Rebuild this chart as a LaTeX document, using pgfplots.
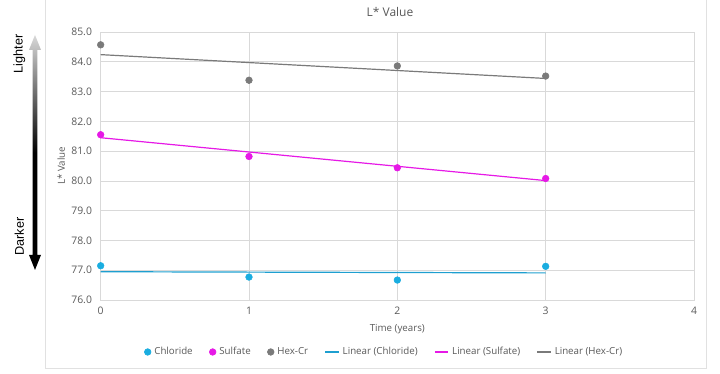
\documentclass[border=0pt]{standalone}
\usepackage{pgfplots}
\pgfplotsset{compat=1.18}
\usepackage{fontspec}
\setmainfont{Open Sans}
\newfontfamily\arial{Liberation Sans}
\definecolor{txt}{HTML}{595959}
\definecolor{cblue}{HTML}{1AADE0}
\definecolor{cblueline}{HTML}{1E9FD0}
\definecolor{cmag}{HTML}{E619E6}
\definecolor{cgray}{HTML}{7A7A7A}
\definecolor{gridc}{HTML}{D9D9D9}
\begin{document}
\begin{tikzpicture}
\path[use as bounding box] (0pt,0pt) rectangle (540pt,280.5pt);
% outer frame
\draw[gridc!80] (33.75pt,285pt) -- (33.75pt,4.5pt) -- (529.5pt,4.5pt) -- (529.5pt,285pt);
% gradient arrow
\shade[top color=gray!30, bottom color=black, middle color=black]
  (26.25pt,254.25pt) -- (30.75pt,243pt) -- (28.1pt,243pt) -- (28.1pt,89.25pt) -- (30.75pt,89.25pt)
  -- (26.25pt,78pt) -- (21.75pt,89.25pt) -- (24.4pt,89.25pt) -- (24.4pt,243pt) -- (21.75pt,243pt) -- cycle;
\node[rotate=90, font=\arial\fontsize{9.5}{11}\selectfont, text=black] at (14.5pt,240pt) {Lighter};
\node[rotate=90, font=\arial\fontsize{9.5}{11}\selectfont, text=black] at (14.5pt,103pt) {Darker};
\node[font=\fontsize{9}{11}\selectfont, text=txt] at (292.5pt,271.5pt) {L* Value};
\begin{axis}[
  at={(75.5pt,55.5pt)}, anchor=south west,
  scale only axis, width=445pt, height=201pt,
  xmin=0, xmax=4, ymin=76, ymax=85,
  xtick={0,1,2,3,4}, ytick={76,77,...,85},
  grid=major, grid style={gridc, line width=0.5pt},
  axis line style={gridc},
  major tick length=0pt,
  tick label style={font=\fontsize{7.8}{9}\selectfont, text=txt},
  /pgf/number format/assume math mode=true,
  yticklabel={\pgfmathprintnumber[fixed,fixed zerofill,precision=1]{\tick}},
  xticklabel style={yshift=-2pt},
  yticklabel style={xshift=-3pt},
  xlabel={Time (years)}, ylabel={L* Value},
  xlabel style={font=\fontsize{7.3}{9}\selectfont, text=txt, yshift=-0.5pt},
  ylabel style={font=\fontsize{7.3}{9}\selectfont, text=txt, yshift=-2pt},
  legend style={at={(0.478,-0.194)}, anchor=center, draw=none, fill=none,
    font=\fontsize{7.3}{9}\selectfont, text=txt, legend columns=6,
    /tikz/every even column/.append style={column sep=11pt},
    /tikz/every odd column/.append style={column sep=1pt},
    /tikz/every node/.append style={inner xsep=1.5pt}},
  legend cell align=left,
  clip=false,
]
\addplot[only marks, mark=*, mark size=2.5pt, cblue, mark options={draw=cblue, fill=cblue}]
  coordinates {(0,77.15) (1,76.77) (2,76.67) (3,77.13)};
\addlegendentry{Chloride}
\addplot[only marks, mark=*, mark size=2.5pt, cmag, mark options={draw=cmag, fill=cmag}]
  coordinates {(0,81.55) (1,80.82) (2,80.44) (3,80.08)};
\addlegendentry{Sulfate}
\addplot[only marks, mark=*, mark size=2.5pt, cgray, mark options={draw=cgray, fill=cgray}]
  coordinates {(0,84.57) (1,83.38) (2,83.86) (3,83.52)};
\addlegendentry{Hex-Cr}
\addplot[no marks, line width=0.9pt, draw=cblueline,
  legend image code/.code={\draw[line width=0.9pt, draw=cblueline] (0pt,0pt) -- (10pt,0pt);}]
  coordinates {(0,76.95) (3,76.91)};
\addlegendentry{Linear (Chloride)}
\addplot[no marks, line width=0.9pt, draw=cmag,
  legend image code/.code={\draw[line width=0.9pt, draw=cmag] (0pt,0pt) -- (10pt,0pt);}]
  coordinates {(0,81.45) (3,80.01)};
\addlegendentry{Linear (Sulfate)}
\addplot[no marks, line width=0.9pt, draw=cgray,
  legend image code/.code={\draw[line width=0.9pt, draw=cgray] (0pt,0pt) -- (10pt,0pt);}]
  coordinates {(0,84.24) (3,83.44)};
\addlegendentry{Linear (Hex-Cr)}
\end{axis}
\end{tikzpicture}
\end{document}
